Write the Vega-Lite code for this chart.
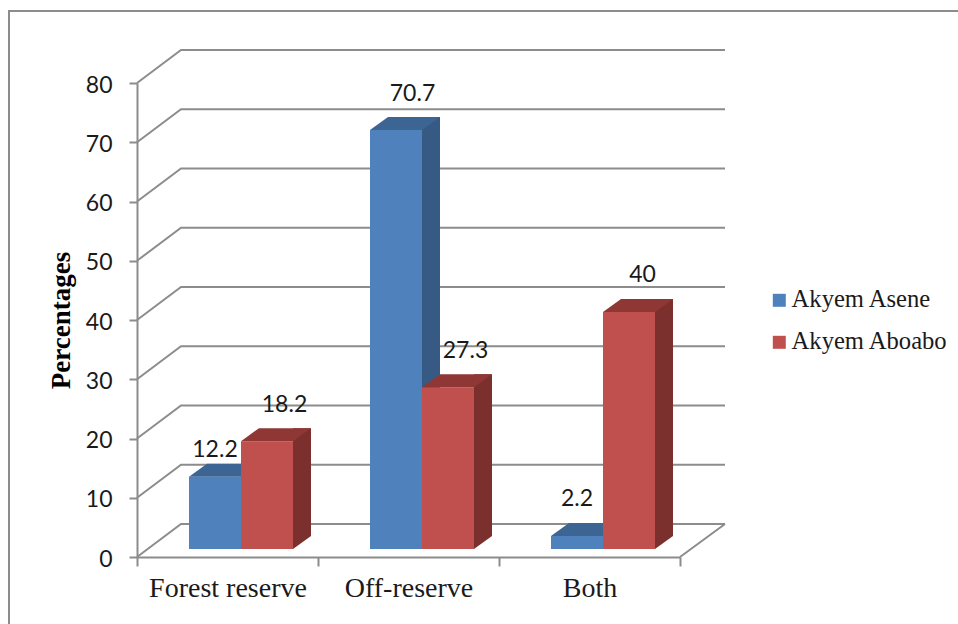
{
  "$schema": "https://vega.github.io/schema/vega-lite/v6.json",
  "width": 543,
  "height": 474,
  "autosize": "none",
  "padding": {"left": 137, "top": 83, "right": 278, "bottom": 67},
  "background": "white",
  "view": {"stroke": null},
  "config": {"axis": {"grid": false}},
  "datasets": {
    "shares": [
      {"location": "Forest reserve", "site": "Akyem Asene", "percent": 12.2},
      {"location": "Forest reserve", "site": "Akyem Aboabo", "percent": 18.2},
      {"location": "Off-reserve", "site": "Akyem Asene", "percent": 70.7},
      {"location": "Off-reserve", "site": "Akyem Aboabo", "percent": 27.3},
      {"location": "Both", "site": "Akyem Asene", "percent": 2.2},
      {"location": "Both", "site": "Akyem Aboabo", "percent": 40}
    ],
    "levels": [
      {"level": 0}, {"level": 10}, {"level": 20}, {"level": 30}, {"level": 40},
      {"level": 50}, {"level": 60}, {"level": 70}, {"level": 80}
    ],
    "origin": [{"level": 0}]
  },
  "layer": [
    {
      "description": "Side wall and back wall gridlines",
      "data": {"name": "levels"},
      "mark": {"type": "point", "shape": "M-90.5,0L-46.5,-33L497.5,-33", "size": 4, "filled": false, "stroke": "#8c8c8c", "strokeWidth": 2, "opacity": 1},
      "encoding": {
        "x": {"datum": "Forest reserve", "type": "nominal", "title": null, "scale": {"domain": ["Forest reserve", "Off-reserve", "Both"], "paddingInner": 0, "paddingOuter": 0, "round": false}},
        "y": {"field": "level", "type": "quantitative", "title": "Percentages", "scale": {"domain": [0, 80], "nice": false}}
      }
    },
    {
      "description": "Floor edge and the outer chart frame",
      "data": {"name": "origin"},
      "mark": {"type": "point", "shape": "M452.5,0L497.5,-33M-218.5,70L-218.5,-546L735,-546", "size": 4, "filled": false, "stroke": "#8c8c8c", "strokeWidth": 2, "opacity": 1},
      "encoding": {
        "x": {"datum": "Forest reserve", "type": "nominal", "title": null},
        "y": {"field": "level", "type": "quantitative", "title": "Percentages"}
      }
    },
    {
      "data": {"name": "shares"},
      "encoding": {
        "x": {
          "field": "location", "type": "nominal", "sort": ["Forest reserve", "Off-reserve", "Both"], "title": null,
          "axis": {"title": null, "labelAngle": 0, "labelAlign": "center", "tickBand": "extent", "domainColor": "#8c8c8c", "domainWidth": 2, "tickColor": "#8c8c8c", "tickWidth": 2, "tickSize": 9, "labelFont": "Liberation Serif", "labelFontSize": 28, "labelColor": "#1a1a1a", "labelPadding": 8, "labelBaseline": "top"}
        },
        "y": {
          "field": "percent", "type": "quantitative", "title": "Percentages",
          "axis": {"title": "Percentages", "values": [0, 10, 20, 30, 40, 50, 60, 70, 80], "domainColor": "#8c8c8c", "domainWidth": 2, "tickColor": "#8c8c8c", "tickWidth": 2, "tickSize": 8, "labelFont": "Lato", "labelFontSize": 23, "labelColor": "#1a1a1a", "labelPadding": 17, "labelOffset": 2, "titleFont": "Liberation Serif", "titleFontSize": 27, "titleFontWeight": "bold", "titleColor": "#000000", "titlePadding": 10}
        }
      },
      "layer": [
        {
          "description": "Blue column: side, base wedge, front, top",
          "transform": [{"filter": "datum.site === 'Akyem Asene'"}],
          "layer": [
            {"mark": {"type": "bar", "color": "#375A85", "width": 18, "xOffset": 22.5, "yOffset": -21, "y2Offset": -21}},
            {"mark": {"type": "point", "shape": "M26,0L26,-13L44,-13Z", "size": 4, "filled": true, "color": "#375A85", "opacity": 1, "strokeWidth": 0, "xOffset": -12.5, "yOffset": -8}, "encoding": {"y": {"datum": 0, "type": "quantitative"}}},
            {"mark": {"type": "bar", "width": 52, "xOffset": -12.5, "yOffset": -8, "y2Offset": -8}, "encoding": {"color": {"field": "site", "type": "nominal", "scale": {"domain": ["Akyem Asene", "Akyem Aboabo"], "range": ["#4F81BD", "#C0504D"]}, "legend": {"title": null, "orient": "none", "legendX": 630, "legendY": 205, "symbolType": "square", "symbolSize": 169, "symbolStrokeWidth": 0, "labelFont": "Liberation Serif", "labelFontSize": 24.6, "labelColor": "#1a1a1a", "labelOffset": 0, "rowPadding": 17}}}},
            {"mark": {"type": "point", "shape": "M-26,0L26,0L44,-13L-8,-13Z", "size": 4, "filled": true, "color": "#3D6594", "opacity": 1, "strokeWidth": 0, "xOffset": -12.5, "yOffset": -8}}
          ]
        },
        {
          "description": "Red column: side, base wedge, front, top",
          "transform": [{"filter": "datum.site === 'Akyem Aboabo'"}],
          "layer": [
            {"mark": {"type": "bar", "color": "#7C302E", "width": 18, "xOffset": 74.5, "yOffset": -21, "y2Offset": -21}},
            {"mark": {"type": "point", "shape": "M26,0L26,-13L44,-13Z", "size": 4, "filled": true, "color": "#7C302E", "opacity": 1, "strokeWidth": 0, "xOffset": 39.5, "yOffset": -8}, "encoding": {"y": {"datum": 0, "type": "quantitative"}}},
            {"mark": {"type": "bar", "width": 52, "xOffset": 39.5, "yOffset": -8, "y2Offset": -8}, "encoding": {"color": {"field": "site", "type": "nominal"}}},
            {"mark": {"type": "point", "shape": "M-26,0L26,0L44,-13L-8,-13Z", "size": 4, "filled": true, "color": "#8F3735", "opacity": 1, "strokeWidth": 0, "xOffset": 39.5, "yOffset": -8}}
          ]
        },
        {
          "description": "Value labels, nudged clear of the columns",
          "layer": [
            {"transform": [{"filter": "datum.percent === 12.2"}], "mark": {"type": "text", "font": "Lato", "fontSize": 23, "color": "#1a1a1a", "baseline": "middle", "dx": -12.5, "dy": -35}, "encoding": {"text": {"field": "percent", "type": "nominal"}}},
            {"transform": [{"filter": "datum.percent === 2.2"}], "mark": {"type": "text", "font": "Lato", "fontSize": 23, "color": "#1a1a1a", "baseline": "middle", "dx": -12.5, "dy": -45}, "encoding": {"text": {"field": "percent", "type": "nominal"}}},
            {"transform": [{"filter": "datum.percent === 70.7"}], "mark": {"type": "text", "font": "Lato", "fontSize": 23, "color": "#1a1a1a", "baseline": "middle", "dx": 4, "dy": -44}, "encoding": {"text": {"field": "percent", "type": "nominal"}}},
            {"transform": [{"filter": "datum.percent === 18.2 || datum.percent === 27.3"}], "mark": {"type": "text", "font": "Lato", "fontSize": 23, "color": "#1a1a1a", "baseline": "middle", "dx": 57, "dy": -44}, "encoding": {"text": {"field": "percent", "type": "nominal"}}},
            {"transform": [{"filter": "datum.percent === 40"}], "mark": {"type": "text", "font": "Lato", "fontSize": 23, "color": "#1a1a1a", "baseline": "middle", "dx": 53, "dy": -45}, "encoding": {"text": {"field": "percent", "type": "nominal"}}}
          ]
        }
      ]
    }
  ]
}
